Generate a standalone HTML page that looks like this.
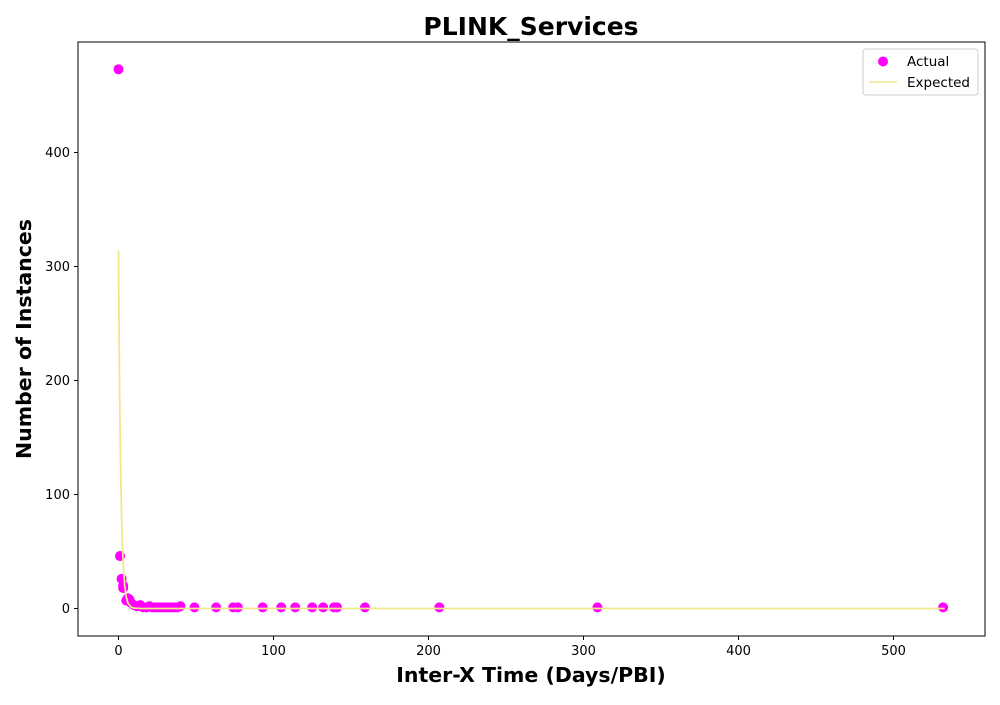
<!DOCTYPE html>
<html><head><meta charset="utf-8"><style>
body{margin:0;background:#fff;font-family:"Liberation Sans","DejaVu Sans",sans-serif}
</style></head><body>
<svg id="chart" width="1000" height="700" xmlns="http://www.w3.org/2000/svg">
<rect width="1000" height="700" fill="#fff"/>
<text x="531" y="35" text-anchor="middle" font-size="25" font-weight="bold" font-family="DejaVu Sans, sans-serif">PLINK_Services</text>
<text x="531" y="682" text-anchor="middle" font-size="20.5" font-weight="bold" font-family="DejaVu Sans, sans-serif">Inter-X Time (Days/PBI)</text>
<text transform="translate(31,339) rotate(-90)" text-anchor="middle" font-size="20.5" font-weight="bold" font-family="DejaVu Sans, sans-serif">Number of Instances</text>
<g id="xt"></g>
<g id="yt"></g>
<g id="marks"></g>
<rect x="78" y="42" width="907" height="594" fill="none" stroke="#000" stroke-width="1"/>
<g>
<rect x="863" y="49" width="115" height="46" rx="3" fill="#fff" stroke="#ccc"/>
<circle cx="883" cy="61.5" r="5" fill="#ff00ff"/>
<text x="907" y="66" font-size="13.5" font-family="DejaVu Sans, sans-serif">Actual</text>
<line x1="869" y1="82" x2="897" y2="82" stroke="#f0e68c" stroke-width="1.5"/>
<text x="907" y="87" font-size="13.5" font-family="DejaVu Sans, sans-serif">Expected</text>
</g>
</svg>
<script>
const actualX=[0,1,2,3,3,5,6,7,8,10,12,14,16,18,20,22,24,26,28,30,32,34,36,38,40,49,63,74,77,93,105,114,125,132,139,141,159,207,309,532];
const actualY=[473,46,26,20,18,7,9,8,5,3,2,3,1,1,2,1,1,1,1,1,1,1,1,1,2,1,1,1,1,1,1,1,1,1,1,1,1,1,1,1];
const expX=[0,0.25,0.5,0.75,1,1.5,2,2.5,3,4,5,6,8,10,15,20,50,100,200,300,400,533];
const expY=[314,265,222,188,158,112,79,57,40,20,10,5,1.3,0.3,0,0,0,0,0,0,0,0];
const xTicks=[0,100,200,300,400,500];
const yTicks=[0,100,200,300,400];
const sx=v=>118.5+v*1.55, sy=v=>608.5-v*1.14;
const NS="http://www.w3.org/2000/svg";
const mk=(t,a,p)=>{const e=document.createElementNS(NS,t);for(const k in a)e.setAttribute(k,a[k]);p.appendChild(e);return e;};
const xt=document.getElementById('xt'),yt=document.getElementById('yt'),m=document.getElementById('marks');
xTicks.forEach(v=>{
 const l=mk('line',{x1:sx(v),x2:sx(v),y1:636,y2:640,stroke:'#000'},xt);
 
 
 const t=mk('text',{x:sx(v),y:655,'text-anchor':'middle','font-size':13,'font-family':'DejaVu Sans, sans-serif'},xt);t.textContent=v;
 
 
});
yTicks.forEach(v=>{
 const l=mk('line',{x1:74,x2:78,y1:sy(v),y2:sy(v),stroke:'#000'},yt);
 
 
 const t=mk('text',{x:70,y:sy(v)+4.5,'text-anchor':'end','font-size':13,'font-family':'DejaVu Sans, sans-serif'},yt);t.textContent=v;
 
 
});
actualX.forEach((v,i)=>{
 const c=mk('circle',{cx:sx(v),cy:sy(actualY[i]),r:5,fill:'#ff00ff'},m);
 
 
});
const p=mk('polyline',{points:expX.map((v,i)=>sx(v)+','+sy(expY[i])).join(' '),fill:'none',stroke:'#f0e68c','stroke-width':1.8},m);


</script>
</body></html>
